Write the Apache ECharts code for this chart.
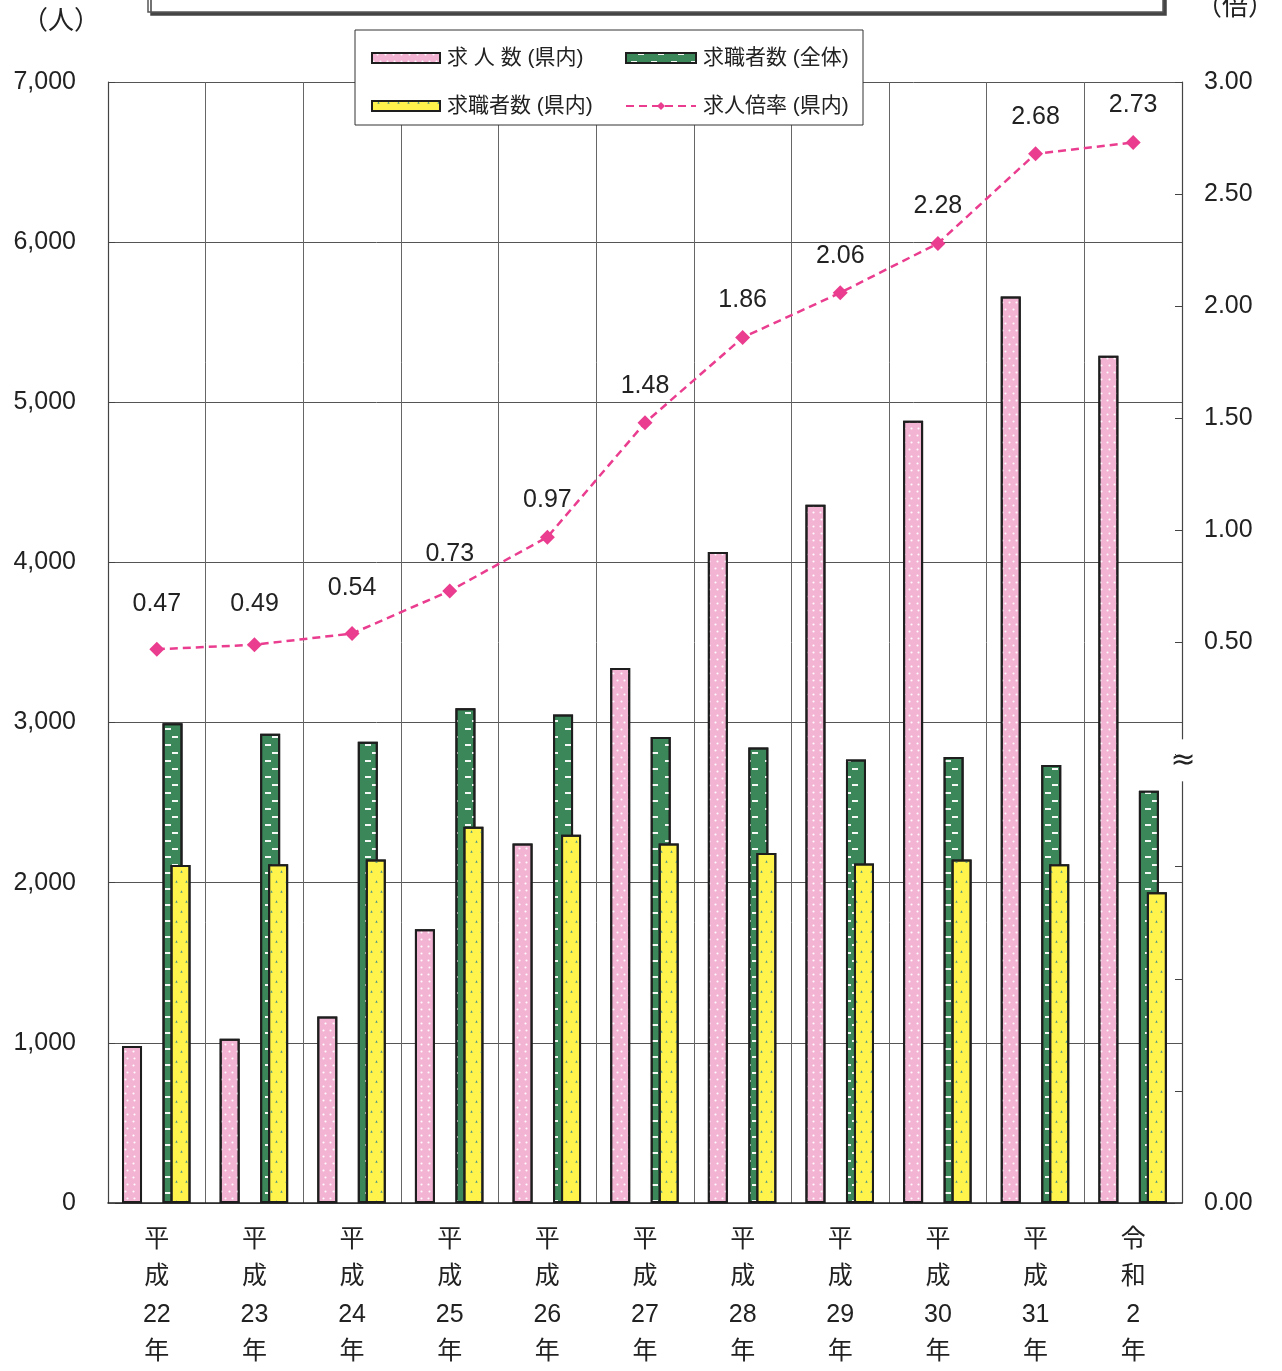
<!DOCTYPE html>
<html>
<head>
<meta charset="utf-8">
<script src="https://cdn.jsdelivr.net/npm/echarts@6/dist/echarts.min.js"></script>
<style>
  html, body { margin: 0; padding: 0; background: #fff; }
  #main { width: 1282px; height: 1371px; }
</style>
</head>
<body>
<div id="main"></div>
<script>
// 年度
const categories = ['平\n成\n22\n年', '平\n成\n23\n年', '平\n成\n24\n年', '平\n成\n25\n年', '平\n成\n26\n年',
  '平\n成\n27\n年', '平\n成\n28\n年', '平\n成\n29\n年', '平\n成\n30\n年', '平\n成\n31\n年', '令\n和\n2\n年'];
// 求人数（県内）
const jobOffers = [980, 1025, 1165, 1710, 2245, 3340, 4065, 4360, 4885, 5660, 5290];
// 求職者数（全体）
const seekersAll = [2995, 2930, 2880, 3090, 3050, 2910, 2845, 2770, 2785, 2735, 2575];
// 求職者数（県内）
const seekersPref = [2110, 2115, 2145, 2350, 2300, 2245, 2185, 2120, 2145, 2115, 1940];
// 求人倍率（県内）
const ratio = [0.47, 0.49, 0.54, 0.73, 0.97, 1.48, 1.86, 2.06, 2.28, 2.68, 2.73];

const leftAxis = { min: 0, max: 7000, interval: 1000 };
// 右軸は 0.50 ～ 0.00 の間を省略（≈）しているので下端を -2 とし、0.00 と表示する
const rightAxis = { min: -2, max: 3, interval: 0.5 };

const FONT = "'Liberation Sans', 'Noto Sans CJK JP', sans-serif";
const TXT = '#222';

const chart = echarts.init(document.getElementById('main'));

const catAxis = (show) => ({
  type: 'category',
  data: categories,
  show: show,
  boundaryGap: true,
  axisLine: { show: show, lineStyle: { color: '#222', width: 1.5 } },
  axisTick: { show: false },
  axisLabel: { show: show, color: TXT, fontFamily: FONT, fontSize: 25, lineHeight: 37.5, margin: 18 },
  splitLine: { show: show, lineStyle: { color: '#666', width: 1 } }
});

const barBorder = { borderColor: '#1e1e1e', borderWidth: 2 };
// 左端3点のラベルは少し上に離れている
const labelGap = { 0: 25, 1: 21, 2: 25 };

const option = {
  backgroundColor: '#fff',
  animation: false,
  grid: { left: 108, top: 82, width: 1074, height: 1125 },
  xAxis: [catAxis(true), catAxis(false), catAxis(false), catAxis(false)],
  yAxis: [
    {
      type: 'value',
      min: leftAxis.min, max: leftAxis.max, interval: leftAxis.interval,
      axisLine: { show: true, lineStyle: { color: '#444', width: 1.2 } },
      axisTick: { show: true, inside: true, length: 7, lineStyle: { color: '#444' } },
      axisLabel: {
        color: TXT, fontFamily: FONT, fontSize: 25, margin: 32,
        formatter: (v) => v.toLocaleString('en-US')
      },
      splitLine: { show: true, lineStyle: { color: '#555', width: 1 } }
    },
    {
      type: 'value',
      position: 'right',
      min: rightAxis.min, max: rightAxis.max, interval: rightAxis.interval,
      axisLine: { show: true, lineStyle: { color: '#444', width: 1.2 } },
      axisTick: { show: true, inside: true, length: 7, lineStyle: { color: '#444' } },
      axisLabel: {
        color: TXT, fontFamily: FONT, fontSize: 25, margin: 22,
        formatter: (v) => (v >= 0.5 ? v.toFixed(2) : (v === rightAxis.min ? '0.00' : ''))
      },
      splitLine: { show: false }
    }
  ],
  legend: [
    {
      orient: 'vertical', left: 366, top: 41, z: 6,
      itemWidth: 68, itemHeight: 10, itemGap: 24,
      textStyle: { color: TXT, fontFamily: FONT, fontSize: 21, lineHeight: 24, padding: [0, 0, 0, 2] },
      data: [{ name: '求 人 数 (県内)', icon: 'rect' }, { name: '求職者数 (県内)', icon: 'rect' }]
    },
    {
      orient: 'vertical', left: 620, top: 41, z: 6,
      itemWidth: 70, itemHeight: 10, itemGap: 24,
      textStyle: { color: TXT, fontFamily: FONT, fontSize: 21, lineHeight: 24, padding: [0, 0, 0, 2] },
      data: [{ name: '求職者数 (全体)', icon: 'rect' }, { name: '求人倍率 (県内)' }]
    }
  ],
  series: [
    {
      name: '求 人 数 (県内)', type: 'bar', xAxisIndex: 0, yAxisIndex: 0,
      barWidth: 20, barGap: '148%',
      data: jobOffers,
      itemStyle: Object.assign({
        color: '#f3b4d4',
        decal: { symbol: 'circle', symbolSize: 0.7, color: 'rgba(255,255,255,0.95)',
          dashArrayX: [[3, 4], [0, 3.5, 3, 0.5]], dashArrayY: [3, 4] }
      }, barBorder)
    },
    { type: 'bar', xAxisIndex: 0, yAxisIndex: 0, barWidth: 20, barGap: '148%', data: [] },

    { type: 'bar', xAxisIndex: 1, yAxisIndex: 0, barWidth: 20, barGap: '57%', data: [] },
    {
      name: '求職者数 (全体)', type: 'bar', xAxisIndex: 1, yAxisIndex: 0,
      barWidth: 20, barGap: '57%',
      data: seekersAll,
      itemStyle: Object.assign({
        color: '#3c875a',
        decal: { symbol: 'rect', symbolSize: 1, color: 'rgba(255,255,255,0.95)',
          dashArrayX: [[0, 5, 6, 9], [0, 12, 6, 2]], dashArrayY: [2, 6] }
      }, barBorder)
    },

    { type: 'bar', xAxisIndex: 2, yAxisIndex: 0, barWidth: 20, barGap: '137%', data: [] },
    {
      name: '求職者数 (県内)', type: 'bar', xAxisIndex: 2, yAxisIndex: 0,
      barWidth: 20, barGap: '137%',
      data: seekersPref,
      itemStyle: Object.assign({
        color: '#fff34c',
        decal: { symbol: 'triangle', symbolSize: 0.8, color: '#4f9485', rotation: 0,
          dashArrayX: [[3, 7], [0, 5, 3, 2]], dashArrayY: [3, 7] }
      }, barBorder)
    },

    {
      name: '求人倍率 (県内)', type: 'line', xAxisIndex: 0, yAxisIndex: 1,
      data: ratio.map((v, i) => (labelGap[i] ? { value: v, label: { distance: labelGap[i] } } : v)),
      z: 5,
      symbol: 'diamond', symbolSize: [15, 15],
      lineStyle: { color: '#ea3d8f', width: 2.5, type: [8, 5] },
      itemStyle: { color: '#ea3d8f' },
      label: {
        show: true, position: 'top', distance: 17,
        color: TXT, fontFamily: FONT, fontSize: 25,
        formatter: (p) => p.value.toFixed(2)
      }
    }
  ]
};

chart.setOption(option);

// 省略記号（≈）と装飾
const axisX = chart.convertToPixel({ xAxisIndex: 0 }, categories[categories.length - 1]) + 1074 / 22;
const breakY = chart.convertToPixel({ yAxisIndex: 1 }, -0.03);
chart.setOption({
  graphic: [
    { type: 'rect', z: 1, shape: { x: 148, y: -30, width: 1015, height: 42 },
      style: { fill: '#fff', stroke: '#555', lineWidth: 1.5, shadowColor: '#444', shadowOffsetX: 3, shadowOffsetY: 3 } },
    { type: 'rect', z: 5, shape: { x: 355, y: 30, width: 508, height: 95 },
      style: { fill: '#fff', stroke: '#333', lineWidth: 1 } },
    { type: 'text', z: 5, left: 22, top: 6,
      style: { text: '（人）', fill: TXT, font: "26px 'Noto Sans CJK JP'" } },
    { type: 'text', z: 5, left: 1196, top: -8,
      style: { text: '（倍）', fill: TXT, font: "26px 'Noto Sans CJK JP'" } },
    { type: 'rect', z: 5, shape: { x: axisX - 6, y: breakY - 22, width: 14, height: 42 },
      style: { fill: '#fff' } },
    { type: 'text', z: 6, x: axisX + 1, y: breakY,
      style: { text: '≈', fill: TXT, font: "30px 'DejaVu Sans'", align: 'center', verticalAlign: 'middle' } }
  ]
});
</script>
</body>
</html>
